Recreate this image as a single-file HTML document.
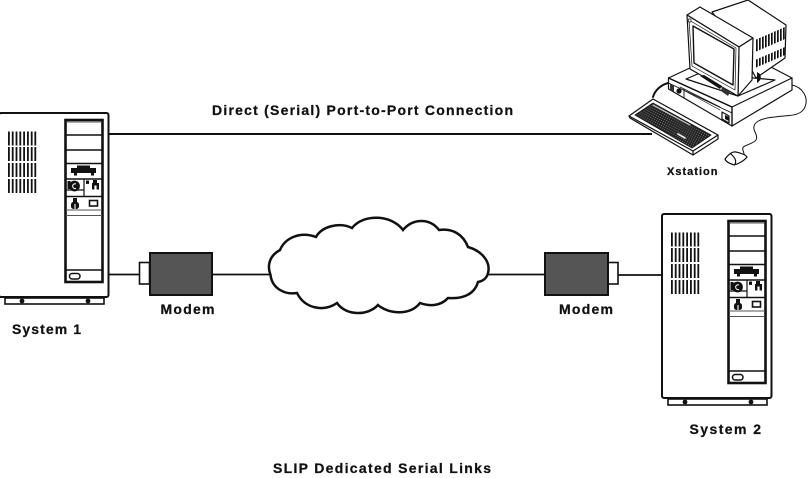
<!DOCTYPE html>
<html>
<head>
<meta charset="utf-8">
<style>
html,body{margin:0;padding:0;background:#fff;width:810px;height:478px;overflow:hidden}
svg{display:block}
text{font-family:"Liberation Sans",sans-serif;font-weight:bold;fill:#111;stroke:#111;stroke-width:.25}
</style>
</head>
<body>
<svg width="810" height="478" viewBox="0 0 810 478" xmlns="http://www.w3.org/2000/svg">
<defs>
<g id="sys">
  <rect x="-1" y="13" width="109.5" height="184" rx="2" fill="#fff" stroke="#111" stroke-width="2"/>
  <rect x="5" y="198" width="99" height="6" fill="#fff" stroke="#111" stroke-width="1.6"/>
  <circle cx="22" cy="201" r="2.4" fill="#111"/>
  <circle cx="88" cy="201" r="2.4" fill="#111"/>
  <!-- grille -->
  <g fill="#111">
    <path d="M8 31.5h1.8v14h-1.8zM11.8 31.5h1.8v14h-1.8zM15.6 31.5h1.8v14h-1.8zM19.4 31.5h1.8v14h-1.8zM23.2 31.5h1.8v14h-1.8zM27 31.5h1.8v14h-1.8zM30.8 31.5h1.8v14h-1.8zM34.4 31.5h1.8v14h-1.8z"/>
    <path d="M8 47h1.8v14h-1.8zM11.8 47h1.8v14h-1.8zM15.6 47h1.8v14h-1.8zM19.4 47h1.8v14h-1.8zM23.2 47h1.8v14h-1.8zM27 47h1.8v14h-1.8zM30.8 47h1.8v14h-1.8zM34.4 47h1.8v14h-1.8z"/>
    <path d="M8 63h1.8v14h-1.8zM11.8 63h1.8v14h-1.8zM15.6 63h1.8v14h-1.8zM19.4 63h1.8v14h-1.8zM23.2 63h1.8v14h-1.8zM27 63h1.8v14h-1.8zM30.8 63h1.8v14h-1.8zM34.4 63h1.8v14h-1.8z"/>
    <path d="M8 79h1.8v14h-1.8zM11.8 79h1.8v14h-1.8zM15.6 79h1.8v14h-1.8zM19.4 79h1.8v14h-1.8zM23.2 79h1.8v14h-1.8zM27 79h1.8v14h-1.8zM30.8 79h1.8v14h-1.8zM34.4 79h1.8v14h-1.8z"/>
  </g>
  <!-- panel -->
  <rect x="65.5" y="20" width="37" height="162" fill="#fff" stroke="#111" stroke-width="2.6"/>
  <path d="M67 22H101" stroke="#777" stroke-width="1.2"/>
  <path d="M66 35H102M66 50H102M66 63.5H102M66 79H102M66 96.5H102M66 170H102" stroke="#111" stroke-width="1.5" fill="none"/>
  <path d="M66 90H84M84 79V96" stroke="#111" stroke-width="1.2" fill="none"/>
  <path d="M66 110H102M66 115.5H102" stroke="#555" stroke-width="1" fill="none"/>
  <!-- drive shape -->
  <path d="M77 65.5H90V68H96V73H94V75.5H91V73H77V75.5H74V73H71V68H77Z" fill="#111"/>
  <circle cx="74.5" cy="86" r="5.4" fill="#111"/>
  <path d="M76 84a2.4 2.4 0 1 0 0 4.4" stroke="#fff" stroke-width="1" fill="none"/>
  <rect x="67.5" y="81" width="3" height="8" fill="#111"/>
  <rect x="86" y="80.5" width="3" height="3.4" fill="#111"/>
  <path d="M93 80h4v3h2v6.5h-2.4v-4h-2.2v4H92v-6.500h1z" fill="#111"/>
  <!-- second row -->
  <rect x="71" y="102" width="8" height="7" rx="2.5" fill="#111"/>
  <rect x="73" y="98" width="4" height="4" fill="#111"/>
  <path d="M75 104v5" stroke="#fff" stroke-width="1.1"/>
  <rect x="89.5" y="100.500" width="8" height="5.500" fill="#fff" stroke="#111" stroke-width="1.6"/>
  <rect x="69.500" y="173.500" width="10.500" height="5.500" rx="2.6" fill="#fff" stroke="#111" stroke-width="1.5"/>
</g>
<pattern id="vent" width="3" height="30" patternUnits="userSpaceOnUse">
  <rect width="1.7" height="30" fill="#111"/>
</pattern>
<pattern id="keys" width="2.2" height="2.200" patternUnits="userSpaceOnUse" patternTransform="rotate(28)">
  <rect width="2.200" height="2.200" fill="#222"/>
  <rect width=".8" height=".8" fill="#999"/>
</pattern>
</defs>

<rect width="810" height="478" fill="#fff"/>

<!-- connectors -->
<path d="M109 134H652" stroke="#111" stroke-width="2" fill="none"/>
<path d="M109 274.500H139M212 274.500H272M488 274.500H545M618 275H666" stroke="#111" stroke-width="1.800" fill="none"/>

<!-- systems -->
<use href="#sys" x="0" y="100"/>
<use href="#sys" x="663" y="201"/>

<!-- modem left -->
<rect x="139.500" y="262.500" width="10" height="21.500" fill="#fff" stroke="#111" stroke-width="1.600"/>
<rect x="150" y="253" width="62" height="42" fill="#555" stroke="#111" stroke-width="2"/>
<!-- modem right -->
<rect x="608" y="262.500" width="10" height="21.500" fill="#fff" stroke="#111" stroke-width="1.600"/>
<rect x="545" y="253" width="63" height="42" fill="#555" stroke="#111" stroke-width="2"/>

<!-- cloud -->
<path d="M270.500 275 C267 266 269 256 280 250 C285 238 300 231 316 237 C322 226 340 222 352 228 C364 213 392 215 403 230 C413 218 430 218 439 230 C452 228 463 234 468 247 C482 251 491 262 488 273 C487 278 483 281 478 282 C474 296 460 299 448 298 C440 307 428 306 420 303 C410 316 388 314 378 305 C368 316 346 316 337 303 C324 312 305 309 297 293 C284 295 272 288 270.500 275Z" fill="#fff" stroke="#111" stroke-width="2.500"/>

<!-- xstation, pixel coordinates -->
<g fill="#fff" stroke="#111" stroke-width="1.200" stroke-linejoin="round" stroke-linecap="round">
  <!-- mouse cord -->
  <path d="M792 85C802 87 809 97 805 107C801 117 787 115 775 117C762 118 750 122 755 132C760 142 753 142 745 146C740 148 745 153 744 155" fill="none" stroke-width="1"/>
  <!-- mouse -->
  <path d="M725 159C728 155 732 151 736 152C741 153 746 155 747 157C744 161 738 164 734 165C729 163 726 162 725 159Z"/>
  <path d="M731 154C734 157 737 160 735 164" fill="none"/>
  <!-- base -->
  <path d="M668.500 78V89L732 126L792 90V78Z"/>
  <path d="M668.500 78L694 66L767 65L792 78L732 107Z"/>
  <path d="M668.500 78L732 107V126" fill="none" stroke-width="1.400"/>
  <path d="M668.500 83L732 113" fill="none" stroke-width=".9"/>
  <path d="M680 87L720 107M685 91L720 110" fill="none" stroke-width=".7"/>
  <path d="M670 84L674 86V92L670 90Z" fill="#333" stroke="none"/>
  <circle cx="679" cy="91" r="2" fill="#111"/>
  <path d="M684 89V98" fill="none" stroke-width=".9"/>
  <path d="M722 112L729 116V123L722 119Z"/>
  <path d="M725 115L729 117V121L725 119Z" fill="#111" stroke="none"/>
  <!-- stand -->
  <path d="M686 79L700 73L775 80L738 96Z"/>
  <!-- monitor back -->
  <path d="M712 12L748 0L786 25L785 58L756 78L740 48Z"/>
  <path d="M755 40L785 27V39L755 52Z" fill="url(#vent)" stroke="none"/>
  <path d="M755 60L785 47V55L755 68Z" fill="url(#vent)" stroke="none"/>
  <path d="M757 72L757 83C760 81 762 78 760 74Z" fill="#111" stroke="none"/>
  <!-- monitor faces -->
  <path d="M687 15L700 7L753 38L739 47Z"/>
  <path d="M739 47L753 38L752 80L738 96Z"/>
  <path d="M687 15L739 47L738 96L690 69Z"/>
  <path d="M689 20L736 48L735 90L692 66Z" stroke-width=".7"/>
  <path d="M693 26L734 49L733 85L694 63Z" stroke-width="1.400"/>
  <rect x="688.500" y="19" width="2.500" height="3" stroke-width=".7"/>
  <!-- drive under monitor -->
  <path d="M700 76L704 75L722 86L720 89Z" fill="#111" stroke="none"/>
  <path d="M722 87L730 92L728 96L721 91Z" fill="#333" stroke="none"/>
  <!-- coil -->
  <path d="M653 97C655 90 661 85 668 83" fill="none" stroke-width="2"/>
  <!-- keyboard -->
  <path d="M629 116L653 99L718 135V139L693 155L630 118Z"/>
  <path d="M629 116L693 151L718 135" fill="none"/>
  <path d="M693 151V155" fill="none"/>
  <path d="M635 115L653 103L711 135L692 148Z" fill="url(#keys)" stroke="#111" stroke-width=".8"/>
  <path d="M653 105L690 125" stroke="#ccc" stroke-width="1" fill="none"/>
  <path d="M678 134L685 138" stroke="#eee" stroke-width="1.700" fill="none"/>
</g>

<!-- labels -->
<text x="212" y="115" font-size="14" textLength="301" lengthAdjust="spacing">Direct (Serial) Port-to-Port Connection</text>
<text x="667" y="175" font-size="11" textLength="50.500" lengthAdjust="spacing">Xstation</text>
<text x="160.500" y="314" font-size="14" textLength="54" lengthAdjust="spacing">Modem</text>
<text x="559" y="314" font-size="14" textLength="54" lengthAdjust="spacing">Modem</text>
<text x="12" y="334" font-size="14" textLength="69" lengthAdjust="spacing">System 1</text>
<text x="689.500" y="434" font-size="14" textLength="71.500" lengthAdjust="spacing">System 2</text>
<text x="273" y="473" font-size="14" textLength="218" lengthAdjust="spacing">SLIP Dedicated Serial Links</text>
</svg>
</body>
</html>
